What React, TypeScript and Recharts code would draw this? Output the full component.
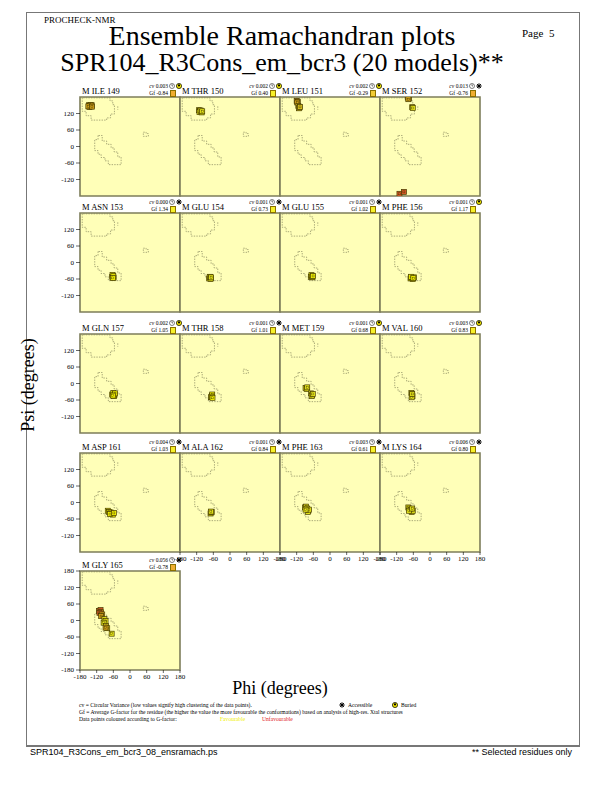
import React from 'react'
import { ScatterChart, Scatter, XAxis, YAxis, ReferenceArea, Cell } from 'recharts'

// residue headers
const residues = [
  'M ILE 149', 'M THR 150', 'M LEU 151', 'M SER 152',
  'M ASN 153', 'M GLU 154', 'M GLU 155', 'M PHE 156',
  'M GLN 157', 'M THR 158', 'M MET 159', 'M VAL 160',
  'M ASP 161', 'M ALA 162', 'M PHE 163', 'M LYS 164',
  'M GLY 165',
]
const cvValues = [
  '0.003', '0.002', '0.002', '0.013', '0.000', '0.001', '0.001', '0.001',
  '0.002', '0.001', '0.001', '0.003', '0.004', '0.001', '0.003', '0.006', '0.056',
]
const gfValues = [
  -0.84, 0.40, -0.29, -0.76, 1.34, 0.73, 1.02, 1.17,
  1.05, 1.01, 0.68, 0.83, 1.03, 0.84, 0.61, 0.80, -0.78,
]
const buried = [
  true, true, true, false, false, false, false, true,
  true, false, true, true, false, false, false, false, false,
]

// allowed-region outlines, [phi, psi]
const betaRegion: [number, number][] = [
  [-172, 177], [-172, 128], [-158, 128], [-158, 112], [-140, 112], [-140, 96],
  [-84, 96], [-84, 104], [-70, 104], [-70, 118], [-56, 118], [-56, 152],
  [-62, 152], [-62, 166], [-72, 166], [-72, 177], [-172, 177],
]
const betaDots: [number, number][] = [[-44, 146], [-44, 134]]
const alphaRegion: [number, number][] = [
  [-115, 40], [-115, 25], [-127, 25], [-127, -15], [-115, -15], [-115, -28],
  [-104, -28], [-104, -40], [-90, -40], [-90, -52], [-78, -52], [-78, -66],
  [-32, -66], [-32, -38], [-44, -38], [-44, -20], [-57, -20], [-57, -5],
  [-68, -5], [-68, 8], [-84, 8], [-84, 20], [-100, 20], [-100, 40], [-115, 40],
]
const lhRegion: [number, number][] = [
  [48, 52], [58, 52], [58, 47], [66, 47], [66, 37], [48, 37], [48, 52],
]

// model points per residue: [phi, psi, G-factor]
const ile149 = [[-148, 150, -0.8], [-144, 148, -0.7], [-140, 146, -0.7], [-146, 144, -0.8], [-138, 150, -0.6], [-142, 151, -0.75], [-150, 146, -0.85], [-137, 145, -0.6]]
const thr150 = [[-112, 132, 0.4], [-108, 130, 0.3], [-104, 128, 0.5], [-110, 125, 0.4], [-102, 124, 0.3], [-106, 131, 0.4], [-100, 128, 0.5]]
const leu151 = [[-120, 166, -1.0], [-116, 163, -0.8], [-118, 160, -0.9], [-114, 147, 0.1], [-110, 142, 0.3], [-112, 139, 0.2], [-108, 144, 0.2]]
const ser152 = [[-80, 178, -0.7], [-76, 175, -0.6], [-78, 172, -0.8], [-64, 143, 0.3], [-62, 140, 0.3], [-110, -172, -1.8], [-94, -165, -1.5]]
const asn153 = [[-64, -52, 1.3], [-61, -48, 1.3], [-59, -55, 1.2], [-63, -45, 1.3], [-60, -50, 1.4], [-62, -56, 1.2]]
const glu154 = [[-75, -58, 0.7], [-71, -53, 0.8], [-69, -57, 0.7], [-73, -52, 0.7], [-70, -60, 0.8], [-68, -54, 0.7]]
const glu155 = [[-69, -52, 1.0], [-65, -48, 1.0], [-63, -54, 1.1], [-67, -46, 1.0], [-64, -51, 1.0], [-61, -49, 1.1]]
const phe156 = [[-70, -58, 1.1], [-66, -55, 1.2], [-62, -60, 1.1], [-58, -54, 1.2], [-68, -52, 1.2], [-60, -57, 1.1]]
const gln157 = [[-64, -40, 1.0], [-60, -34, 1.1], [-56, -42, 1.0], [-58, -46, 1.1], [-54, -36, 1.0], [-62, -44, 1.0]]
const thr158 = [[-68, -50, 1.0], [-65, -44, 1.0], [-64, -40, 1.1], [-66, -48, 1.0], [-63, -52, 1.0]]
const met159 = [[-88, -16, 0.6], [-84, -20, 0.6], [-82, -14, 0.7], [-68, -36, 0.7], [-64, -42, 0.7], [-66, -46, 0.7], [-62, -38, 0.7]]
const val160 = [[-67, -34, 0.8], [-65, -40, 0.8], [-63, -46, 0.9], [-66, -50, 0.8], [-64, -38, 0.8]]
const asp161 = [[-80, -30, 1.0], [-76, -34, 1.0], [-70, -36, 1.1], [-66, -40, 1.0], [-62, -44, 1.0], [-72, -42, 1.0], [-58, -38, 1.1]]
const ala162 = [[-70, -40, 0.8], [-67, -36, 0.9], [-66, -34, 0.8], [-69, -33, 0.8]]
const phe163 = [[-90, -18, 0.6], [-86, -15, 0.6], [-82, -22, 0.6], [-78, -30, 0.6], [-80, -34, 0.6], [-76, -26, 0.6], [-88, -26, 0.6]]
const lys164 = [[-78, -18, 0.8], [-74, -22, 0.8], [-70, -28, 0.8], [-66, -34, 0.8], [-62, -30, 0.8], [-76, -30, 0.8], [-64, -22, 0.8]]
const gly165 = [[-112, 35, -1.6], [-106, 38, -1.4], [-104, 30, -1.2], [-110, 28, -1.5], [-100, 22, -0.9], [-104, 16, -0.8], [-92, 5, 0.5], [-88, -2, 0.4], [-95, -8, 0.5], [-86, -20, -0.3], [-82, -28, -0.2], [-88, -26, -0.4], [-66, -48, 0.6]]

const modelPoints = [
  ile149, thr150, leu151, ser152, asn153, glu154, glu155, phe156,
  gln157, thr158, met159, val160, asp161, ala162, phe163, lys164, gly165,
]

const phiTicks = [-180, -120, -60, 0, 60, 120, 180]
const psiTicks = [-120, -60, 0, 60, 120]

const COLS = [80, 180, 280, 380]
const ROWS = [97, 213, 334, 453, 571]
const PW = 100
const PH = 99
const FONT = "'Liberation Serif', 'DejaVu Serif', 'Times New Roman', Times, serif"
const PANEL_FILL = '#ffffb8'
const PANEL_EDGE = '#7d7d5a'
const CONTOUR = '#85855c'

function gColor(g: number) {
  if (g >= 0.9) return '#f2f200'
  if (g >= 0.3) return '#e6e61a'
  if (g >= -0.3) return '#dcc41e'
  if (g >= -0.9) return '#cf9e1a'
  if (g >= -1.3) return '#dc8226'
  return '#d65628'
}

function gfSquareColor(gf: number) {
  if (gf >= 0.3) return '#f6f02a'
  if (gf >= -0.4) return '#f2cc34'
  return '#f0ae30'
}

const toXY = (pts: [number, number][]) => pts.map(([phi, psi]) => ({ phi, psi }))

function SquareMark(props: any) {
  const { cx, cy, fill } = props
  if (cx == null || cy == null) return <g />
  return (
    <g>
      <rect x={cx - 2.5} y={cy - 2.5} width={5} height={5} fill={fill} stroke="#463c00" strokeWidth={0.7} />
      <rect x={cx - 1} y={cy - 1} width={2} height={2} fill="none" stroke="#463c00" strokeWidth={0.4} />
    </g>
  )
}

function Panel({ idx }: { idx: number }) {
  const row = Math.floor(idx / 4)
  const col = idx % 4
  const left = COLS[col]
  const top = ROWS[row]
  const showY = col === 0
  const showX = row === 4 || (row === 3 && col > 0)
  const yTicks = row === 4 ? phiTicks : psiTicks
  const pts = modelPoints[idx].map(([phi, psi, g]) => ({ phi, psi, g }))
  const tickStyle = { fontSize: 7, fill: '#000', fontFamily: FONT }
  const outline = { stroke: CONTOUR, strokeWidth: 0.7, strokeDasharray: '1.4 1.2' }

  return (
    <div style={{ position: 'absolute', left: left - 30, top: top - 6 }}>
      <ScatterChart width={30 + PW + 6} height={6 + PH + 20} margin={{ top: 6, right: 6, bottom: 0, left: 0 }}>
        <XAxis
          type="number" dataKey="phi" domain={[-180, 180]} ticks={phiTicks} interval={0}
          allowDataOverflow height={20} axisLine={false}
          tick={showX ? tickStyle : false} tickLine={showX ? { stroke: '#000', strokeWidth: 0.6 } : false}
          tickSize={3} tickMargin={1}
        />
        <YAxis
          type="number" dataKey="psi" domain={[-180, 180]} ticks={yTicks} interval={0}
          allowDataOverflow width={30} axisLine={false}
          tick={showY ? tickStyle : false} tickLine={showY ? { stroke: '#000', strokeWidth: 0.6 } : false}
          tickSize={4} tickMargin={2}
        />
        <ReferenceArea x1={-180} x2={180} y1={-180} y2={180} fill={PANEL_FILL} fillOpacity={1} stroke={PANEL_EDGE} strokeWidth={1.6} />
        <Scatter data={toXY(betaRegion)} line={outline} lineType="joint" shape={() => <g />} isAnimationActive={false} />
        <Scatter data={toXY(betaDots)} line={outline} lineType="joint" shape={() => <g />} isAnimationActive={false} />
        <Scatter data={toXY(alphaRegion)} line={outline} lineType="joint" shape={() => <g />} isAnimationActive={false} />
        <Scatter data={toXY(lhRegion)} line={outline} lineType="joint" shape={() => <g />} isAnimationActive={false} />
        <Scatter data={pts} shape={SquareMark} isAnimationActive={false}>
          {pts.map((p, i) => <Cell key={i} fill={gColor(p.g)} />)}
        </Scatter>
      </ScatterChart>
    </div>
  )
}

function ClockIcon({ size = 6 }: { size?: number }) {
  const r = size / 2
  return (
    <svg width={size} height={size} style={{ display: 'block' }}>
      <circle cx={r} cy={r} r={r - 0.5} fill="#fff" stroke="#000" strokeWidth={0.5} />
      <line x1={r} y1={r} x2={r} y2={1.2} stroke="#000" strokeWidth={0.5} />
      <line x1={r} y1={r} x2={r + 1} y2={r} stroke="#000" strokeWidth={0.5} />
    </svg>
  )
}

function BuriedIcon({ size = 6 }: { size?: number }) {
  const r = size / 2
  return (
    <svg width={size} height={size} style={{ display: 'block' }}>
      <circle cx={r} cy={r} r={r - 0.4} fill="#f2e600" stroke="#000" strokeWidth={0.7} />
      <circle cx={r} cy={r * 0.8} r={r * 0.35} fill="#000" />
    </svg>
  )
}

function AccessibleIcon({ size = 6 }: { size?: number }) {
  const r = size / 2
  const spokes = [0, 45, 90, 135]
  return (
    <svg width={size} height={size} style={{ display: 'block' }}>
      {spokes.map((a) => {
        const rad = (a * Math.PI) / 180
        const dx = Math.cos(rad) * (r - 0.3)
        const dy = Math.sin(rad) * (r - 0.3)
        return <line key={a} x1={r - dx} y1={r - dy} x2={r + dx} y2={r + dy} stroke="#000" strokeWidth={1} />
      })}
      <circle cx={r} cy={r} r={r * 0.45} fill="#000" />
    </svg>
  )
}

function Header({ idx }: { idx: number }) {
  const row = Math.floor(idx / 4)
  const col = idx % 4
  const L = COLS[col]
  const T = ROWS[row]
  const gf = gfValues[idx]
  return (
    <>
      <div style={{ position: 'absolute', left: L + 2, top: T - 11, fontSize: 8.5, lineHeight: '10px', whiteSpace: 'nowrap' }}>
        {residues[idx]}
      </div>
      <div style={{ position: 'absolute', left: L + 38, width: 50, top: T - 14, fontSize: 5.5, lineHeight: '6px', textAlign: 'right', whiteSpace: 'nowrap' }}>
        <i>cv</i> {cvValues[idx]}
      </div>
      <div style={{ position: 'absolute', left: L + 89, top: T - 14 }}><ClockIcon /></div>
      <div style={{ position: 'absolute', left: L + 95.5, top: T - 14 }}>
        {buried[idx] ? <BuriedIcon /> : <AccessibleIcon />}
      </div>
      <div style={{ position: 'absolute', left: L + 38, width: 50, top: T - 7.5, fontSize: 5.5, lineHeight: '6px', textAlign: 'right', whiteSpace: 'nowrap' }}>
        Gf {gf.toFixed(2)}
      </div>
      <div style={{ position: 'absolute', left: L + 89.5, top: T - 7, width: 4.5, height: 4.5, background: gfSquareColor(gf), border: '0.5px solid #8a7000' }} />
    </>
  )
}

export default function App() {
  return (
    <div style={{ position: 'absolute', left: 0, top: 0, width: 612, height: 792, background: '#fff', fontFamily: FONT, color: '#000' }}>
      {/* page frame */}
      <div style={{ position: 'absolute', left: 26, top: 12, width: 552, height: 732, border: '1px solid #777', borderBottom: '2px solid #777' }} />

      <div style={{ position: 'absolute', left: 44, top: 15, fontSize: 9, lineHeight: '10px' }}>PROCHECK-NMR</div>
      <div style={{ position: 'absolute', left: 522, top: 27, fontSize: 11, lineHeight: '12px' }}>Page&nbsp;&nbsp;5</div>
      <div style={{ position: 'absolute', left: 0, width: 564, top: 23, fontSize: 28, lineHeight: '26px', textAlign: 'center', whiteSpace: 'nowrap' }}>
        Ensemble Ramachandran plots
      </div>
      <div style={{ position: 'absolute', left: 0, width: 564, top: 51, fontSize: 26, lineHeight: '24px', textAlign: 'center', whiteSpace: 'nowrap' }}>
        SPR104_R3Cons_em_bcr3 (20 models)**
      </div>

      {residues.map((_, i) => <Panel key={i} idx={i} />)}
      {residues.map((_, i) => <Header key={'h' + i} idx={i} />)}

      <div style={{ position: 'absolute', left: 28, top: 385, width: 0, height: 0 }}>
        <div style={{ position: 'absolute', transform: 'translate(-50%, -50%) rotate(-90deg)', fontSize: 18, whiteSpace: 'nowrap' }}>
          Psi (degrees)
        </div>
      </div>
      <div style={{ position: 'absolute', left: 180, width: 200, top: 678, fontSize: 18, lineHeight: '20px', textAlign: 'center' }}>
        Phi (degrees)
      </div>

      {/* legend */}
      <div style={{ position: 'absolute', left: 79, top: 702, fontSize: 5.6, lineHeight: '6px', whiteSpace: 'nowrap' }}>
        cv = Circular Variance (low values signify high clustering of the data points).
      </div>
      <div style={{ position: 'absolute', left: 339, top: 702 }}><AccessibleIcon size={6} /></div>
      <div style={{ position: 'absolute', left: 348, top: 702, fontSize: 5.6, lineHeight: '6px' }}>Accessible</div>
      <div style={{ position: 'absolute', left: 392, top: 702 }}><BuriedIcon size={6} /></div>
      <div style={{ position: 'absolute', left: 401, top: 702, fontSize: 5.6, lineHeight: '6px' }}>Buried</div>
      <div style={{ position: 'absolute', left: 79, top: 709, fontSize: 5.6, lineHeight: '6px', whiteSpace: 'nowrap' }}>
        Gf = Average G-factor for the residue (the higher the value the more favourable the conformations) based on analysis of high-res. Xtal structures
      </div>
      <div style={{ position: 'absolute', left: 79, top: 716, fontSize: 5.6, lineHeight: '6px', whiteSpace: 'nowrap' }}>
        Data points coloured according to G-factor:
      </div>
      <div style={{ position: 'absolute', left: 220, top: 716, fontSize: 5.6, lineHeight: '6px', color: '#f0f000' }}>Favourable</div>
      <div style={{ position: 'absolute', left: 262, top: 716, fontSize: 5.6, lineHeight: '6px', color: '#e02020' }}>Unfavourable</div>

      <div style={{ position: 'absolute', left: 30, top: 747, fontSize: 9, lineHeight: '10px', fontFamily: "'Liberation Sans', Arial, sans-serif" }}>
        SPR104_R3Cons_em_bcr3_08_ensramach.ps
      </div>
      <div style={{ position: 'absolute', right: 612 - 572, top: 747, fontSize: 9, lineHeight: '10px', fontFamily: "'Liberation Sans', Arial, sans-serif" }}>
        ** Selected residues only
      </div>
    </div>
  )
}
